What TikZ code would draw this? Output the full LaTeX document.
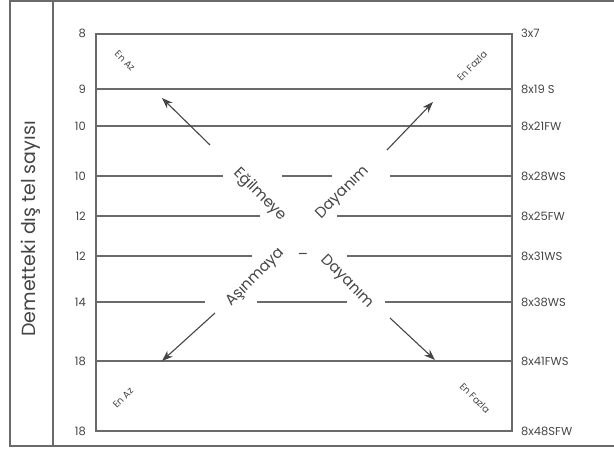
\documentclass[tikz,border=0pt]{standalone}
\usepackage{fontspec}
\setmainfont{Poppins}
\usetikzlibrary{arrows.meta}
\definecolor{linegray}{HTML}{6A6A6A}
\definecolor{textgray}{HTML}{454545}
\tikzset{
  gridline/.style={draw=linegray, line width=1.1pt},
  framel/.style={draw=linegray, line width=1.1pt},
  axisnum/.style={text=textgray, font=\fontsize{11.5}{11.5}\selectfont, anchor=east, inner sep=0pt},
  ropelabel/.style={text=textgray, font=\fontsize{11.5}{11.5}\selectfont, anchor=west, inner sep=0pt},
  bigtext/.style={text=textgray, font=\fontsize{15}{15}\selectfont, inner sep=0pt},
  corner/.style={text=textgray, font=\fontsize{9.5}{9.5}\selectfont, inner sep=0pt},
  arr/.style={draw=textgray, line width=1.1pt, -{Stealth[length=11pt,width=8pt]}},
}
\begin{document}
\begin{tikzpicture}[x=1pt,y=-1pt]
\useasboundingbox (0,0) rectangle (614,457);
% outer frame
\draw[framel] (614,1) -- (10,1) -- (10,446) -- (614,446);
\draw[framel] (53,1) -- (53,446);
% inner box
\draw[gridline] (96,34) rectangle (512,431);
% grid lines
\draw[gridline] (96,89) -- (512,89);
\draw[gridline] (96,126) -- (512,126);
\draw[gridline] (96,176) -- (223,176) (282,176) -- (332,176) (390,176) -- (512,176);
\draw[gridline] (96,216) -- (260,216) (337,216) -- (512,216);
\draw[gridline] (96,256) -- (252,256) (347,256) -- (512,256);
\draw[gridline] (96,302) -- (205,302) (257,302) -- (347,302) (385,302) -- (512,302);
\draw[gridline] (96,361) -- (512,361);
% vertical axis title
\node[text=textgray, font=\fontsize{19}{19}\selectfont, rotate=90, inner sep=0pt] (title) at (31,229) {Demetteki dış tel sayısı};
% left numbers
\node[axisnum] (n1) at (86,33) {8};
\node[axisnum] (n2) at (86,89) {9};
\node[axisnum] (n3) at (86,126) {10};
\node[axisnum] (n4) at (86,176) {10};
\node[axisnum] (n5) at (86,216) {12};
\node[axisnum] (n6) at (86,256) {12};
\node[axisnum] (n7) at (86,302) {14};
\node[axisnum] (n8) at (86,361) {18};
\node[axisnum] (n9) at (86,431) {18};
% right labels
\node[ropelabel] (r1) at (521,33) {3x7};
\node[ropelabel] (r2) at (521,89) {8x19 S};
\node[ropelabel] (r3) at (521,126) {8x21FW};
\node[ropelabel] (r4) at (521,176) {8x28WS};
\node[ropelabel] (r5) at (521,216) {8x25FW};
\node[ropelabel] (r6) at (521,256) {8x31WS};
\node[ropelabel] (r7) at (521,302) {8x38WS};
\node[ropelabel] (r8) at (521,361) {8x41FWS};
\node[ropelabel] (r9) at (521,431) {8x48SFW};
% corner labels
\node[corner, rotate=-45] (c1) at (125,61) {En Az};
\node[corner, rotate=45] (c2) at (472,66) {En Fazla};
\node[corner, rotate=45] (c3) at (123,398) {En Az};
\node[corner, rotate=-45] (c4) at (475,398) {En Fazla};
% center texts
\node[bigtext, rotate=-45] (t1) at (260,195) {Eğilmeye};
\node[bigtext, rotate=45] (t2) at (343,193) {Dayanım};
\node[bigtext, rotate=45] (t3) at (256,278) {Aşınmaya};
\node[bigtext] (t4) at (303,256) {–};
\node[bigtext, rotate=-45] (t5) at (347,282) {Dayanım};
% arrows
\coordinate (a1s) at (210,145); \coordinate (a1e) at (162,98);
\coordinate (a2s) at (387,150); \coordinate (a2e) at (433,102);
\coordinate (a3s) at (215,313); \coordinate (a3e) at (162,361);
\coordinate (a4s) at (390,318); \coordinate (a4e) at (435,360);
\draw[arr] (a1s) -- (a1e);
\draw[arr] (a2s) -- (a2e);
\draw[arr] (a3s) -- (a3e);
\draw[arr] (a4s) -- (a4e);
\end{tikzpicture}
\end{document}
